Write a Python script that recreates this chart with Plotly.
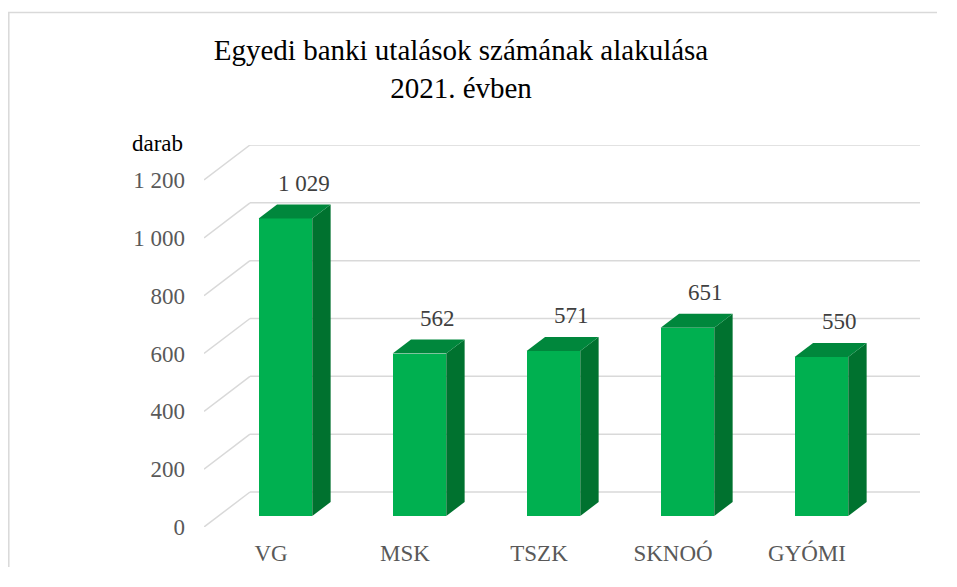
import plotly.graph_objects as go

categories = ["VG", "MSK", "TSZK", "SKNOÓ", "GYÓMI"]
values = [1029, 562, 571, 651, 550]
value_labels = ["1 029", "562", "571", "651", "550"]
y_ticks = [0, 200, 400, 600, 800, 1000, 1200]
y_tick_labels = ["0", "200", "400", "600", "800", "1 000", "1 200"]

# pseudo-3D projection parameters
DX = 46 / 134   # depth shift in category units
DY = 121        # depth shift in value units
Z0, Z1 = 0.314, 0.714   # bar depth extent (fraction of wall depth)
BW = 0.40               # bar width in category units

FRONT = "#00B050"
SIDE = "#00722F"
TOP = "#00873C"
GRID = "#D9D9D9"
FONT = "Liberation Serif, Times New Roman, serif"

W, H = 941, 571
ML, MR, MT, MB = 196, 29, 137, 52
PW, PH = W - ML - MR, H - MT - MB

n = len(categories)
xmin, xmax = -0.5, n - 0.5

fig = go.Figure()

# walls / gridlines (below the bars)
for t in y_ticks:
    fig.add_shape(type="line", xref="x", yref="y", x0=xmin, y0=t, x1=xmin + DX, y1=t + DY,
                  line=dict(color=GRID, width=1.5), layer="below")
    fig.add_shape(type="line", xref="x", yref="y", x0=xmin + DX, y0=t + DY, x1=xmax + DX, y1=t + DY,
                  line=dict(color=GRID, width=1.5), layer="below")

# front faces
front_x = [i + Z0 * DX for i in range(n)]
fig.add_trace(go.Bar(x=front_x, y=values, base=Z0 * DY, width=BW,
                     marker=dict(color=FRONT, line=dict(width=0)),
                     hoverinfo="skip", showlegend=False))

# side and top faces
for i, v in enumerate(values):
    xl0 = i + Z0 * DX - BW / 2
    xr0 = i + Z0 * DX + BW / 2
    d = (Z1 - Z0) * DX
    yb0 = Z0 * DY
    yb1 = Z1 * DY
    fig.add_trace(go.Scatter(
        x=[xr0, xr0, xr0 + d, xr0 + d, xr0],
        y=[yb0, v + yb0, v + yb1, yb1, yb0],
        mode="lines", fill="toself", fillcolor=SIDE,
        line=dict(width=0, color=SIDE), hoverinfo="skip", showlegend=False))
    fig.add_trace(go.Scatter(
        x=[xl0, xr0, xr0 + d, xl0 + d, xl0],
        y=[v + yb0, v + yb0, v + yb1, v + yb1, v + yb0],
        mode="lines", fill="toself", fillcolor=TOP,
        line=dict(width=0, color=TOP), hoverinfo="skip", showlegend=False))

# data labels
for i, (v, lab) in enumerate(zip(values, value_labels)):
    fig.add_annotation(x=i + Z1 * DX, y=v + Z1 * DY, text=lab, showarrow=False,
                       yshift=21, xanchor="center", yanchor="middle",
                       font=dict(family=FONT, size=23, color="#404040"))

# axis unit label
fig.add_annotation(xref="paper", yref="paper", x=-0.0656, y=1.005, text="darab",
                   showarrow=False, xanchor="center", yanchor="middle",
                   font=dict(family=FONT, size=23, color="#000000"))

# chart border: only the left and top edges are visible
bx0 = (0.8 - ML) / PW
by1 = (PH + MT - 4.5) / PH
bx1 = (W - 12 - ML) / PW
by0 = -(MB - 12) / PH
fig.add_shape(type="path", xref="paper", yref="paper",
              path=f"M {bx0},{by0} L {bx0},{by1} L {bx1},{by1}",
              line=dict(color=GRID, width=1.5), layer="below")

fig.update_layout(
    width=W, height=H,
    font=dict(family=FONT),
    margin=dict(l=ML, r=MR, t=MT, b=MB, autoexpand=False),
    paper_bgcolor="white", plot_bgcolor="white",
    title=dict(text="Egyedi banki utalások számának alakulása<br>2021. évben",
               x=453 / W, xanchor="center", y=1 - 52 / H, yanchor="top",
               font=dict(family=FONT, size=29, color="#000000")),
    xaxis=dict(range=[xmin, xmax + DX], tickvals=list(range(n)), ticktext=categories,
               showgrid=False, zeroline=False, showline=False, ticks="",
               ticklabelstandoff=10,
               tickfont=dict(family=FONT, size=23, color="#595959")),
    yaxis=dict(range=[0, 1200 + DY], tickvals=y_ticks, ticktext=y_tick_labels,
               showgrid=False, zeroline=False, showline=False, ticks="",
               ticklabelstandoff=18,
               tickfont=dict(family=FONT, size=23, color="#595959")),
    bargap=0,
)

fig.write_html("out.html")
